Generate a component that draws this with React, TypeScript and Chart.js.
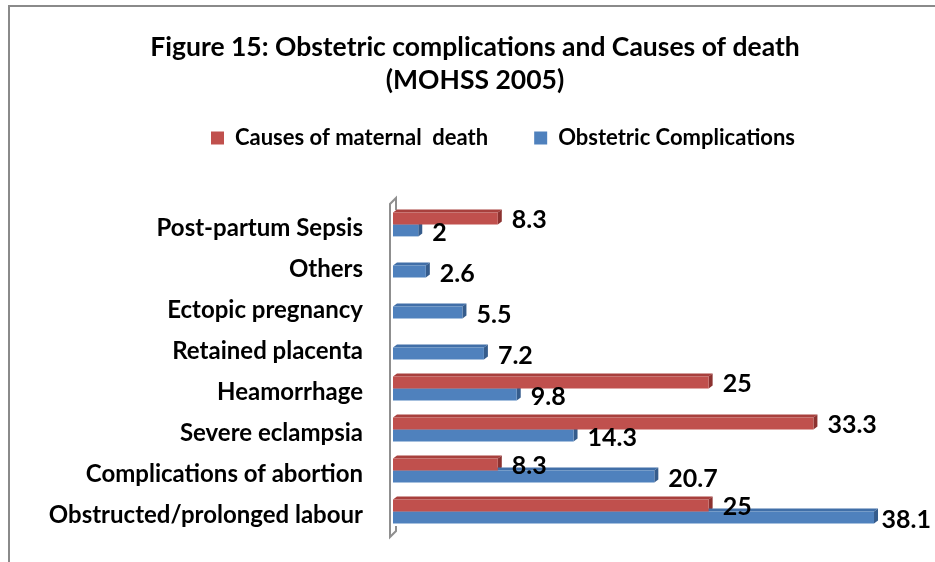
import React, { useEffect, useRef } from "react";
import { Chart, registerables } from "chart.js";

Chart.register(...registerables);

const titleLines = ["Figure 15: Obstetric complications and Causes of death", "(MOHSS 2005)"];
const categories = [
  "Post-partum Sepsis",
  "Others",
  "Ectopic pregnancy",
  "Retained placenta",
  "Heamorrhage",
  "Severe eclampsia",
  "Complications of abortion",
  "Obstructed/prolonged labour",
];
const seriesNames = ["Causes of maternal  death", "Obstetric Complications"];
const maternalDeath: (number | null)[] = [8.3, null, null, null, 25, 33.3, 8.3, 25];
const obstetricComplications: (number | null)[] = [2, 2.6, 5.5, 7.2, 9.8, 14.3, 20.7, 38.1];

const FONT = "Lato, 'Open Sans', sans-serif";
const frontColors = ["#C0504D", "#4F81BD"];
const topColors = ["#A8403D", "#416FA8"];
const sideColors = ["#8C3230", "#355C8C"];
const DX = 4;
const DY = 3;

const framePlugin = {
  id: "frame",
  beforeDraw(chart: any) {
    const ctx = chart.ctx;
    ctx.save();
    ctx.fillStyle = "#ffffff";
    ctx.fillRect(0, 0, chart.width, chart.height);
    ctx.strokeStyle = "#8a8a8a";
    ctx.lineWidth = 2;
    ctx.beginPath();
    ctx.moveTo(9, chart.height);
    ctx.lineTo(9, 6);
    ctx.lineTo(chart.width, 6);
    ctx.stroke();
    ctx.restore();
  },
};

const wallPlugin = {
  id: "wall",
  beforeDatasetsDraw(chart: any) {
    const ctx = chart.ctx;
    const a = chart.chartArea;
    const x0 = a.left - 3;
    ctx.save();
    ctx.strokeStyle = "#8f8f8f";
    ctx.lineWidth = 2;
    ctx.beginPath();
    ctx.moveTo(x0 + 6, a.top + 6);
    ctx.lineTo(x0 + 6, a.top - 6);
    ctx.lineTo(x0, a.top);
    ctx.lineTo(x0, a.bottom + 5);
    ctx.lineTo(x0 + 6, a.bottom - 1);
    ctx.lineTo(x0 + 6, a.bottom - 6);
    ctx.stroke();
    ctx.restore();
  },
};

const depthPlugin = {
  id: "depth3d",
  beforeDatasetsDraw(chart: any) {
    const ctx = chart.ctx;
    ctx.save();
    chart.data.datasets.forEach((ds: any, di: number) => {
      const meta = chart.getDatasetMeta(di);
      meta.data.forEach((el: any, i: number) => {
        if (ds.data[i] == null) return;
        const { x, y, base, height } = el.getProps(["x", "y", "base", "height"], true);
        const top = y - height / 2;
        const bottom = y + height / 2;
        ctx.fillStyle = topColors[di];
        ctx.beginPath();
        ctx.moveTo(base, top);
        ctx.lineTo(base + DX, top - DY);
        ctx.lineTo(x + DX, top - DY);
        ctx.lineTo(x, top);
        ctx.closePath();
        ctx.fill();
        ctx.fillStyle = sideColors[di];
        ctx.beginPath();
        ctx.moveTo(x, top);
        ctx.lineTo(x + DX, top - DY);
        ctx.lineTo(x + DX, bottom - DY);
        ctx.lineTo(x, bottom);
        ctx.closePath();
        ctx.fill();
      });
    });
    ctx.restore();
  },
};

const labelPlugin = {
  id: "valueLabels",
  afterDatasetsDraw(chart: any) {
    const ctx = chart.ctx;
    ctx.save();
    ctx.font = `bold 25px ${FONT}`;
    ctx.fillStyle = "#000000";
    ctx.textBaseline = "middle";
    ctx.textAlign = "left";
    chart.data.datasets.forEach((ds: any, di: number) => {
      const meta = chart.getDatasetMeta(di);
      meta.data.forEach((el: any, i: number) => {
        const v = ds.data[i];
        if (v == null) return;
        const text = String(v);
        const w = ctx.measureText(text).width;
        let tx = el.x + 14;
        if (tx + w > chart.width - 4) tx = chart.width - 4 - w;
        ctx.fillText(text, tx, el.y + (di === 1 ? 2 : 1));
      });
    });
    ctx.restore();
  },
};

const blockPosPlugin = {
  id: "blockPos",
  afterLayout(chart: any) {
    const tb = chart.titleBlock;
    if (tb) {
      tb.left += 26;
      tb.right += 26;
    }
    const lg = chart.legend;
    if (lg) {
      const dy = 81 - lg.top;
      lg.top += dy;
      lg.bottom += dy;
      lg.left += 54;
      lg.right += 54;
    }
  },
};

export default function App() {
  const ref = useRef<HTMLCanvasElement | null>(null);
  useEffect(() => {
    if (!ref.current) return;
    const chart = new Chart(ref.current, {
      type: "bar",
      data: {
        labels: categories,
        datasets: [
          {
            label: seriesNames[0],
            data: maternalDeath,
            backgroundColor: frontColors[0],
            categoryPercentage: 0.58,
            barPercentage: 1,
          },
          {
            label: seriesNames[1],
            data: obstetricComplications,
            backgroundColor: frontColors[1],
            categoryPercentage: 0.58,
            barPercentage: 1,
          },
        ],
      },
      options: {
        indexAxis: "y",
        animation: false,
        responsive: false,
        layout: { padding: { top: 6, left: 0, right: 37, bottom: 30 } },
        scales: {
          x: {
            position: "top",
            min: 0,
            max: 40,
            grid: { display: false },
            border: { display: false },
            ticks: { display: false },
            afterFit: (s: any) => {
              s.height = 29.5;
              s.paddingLeft = 0;
              s.paddingRight = 0;
            },
          },
          y: {
            grid: { display: false, drawTicks: false },
            border: { display: false },
            ticks: {
              padding: 30,
              labelOffset: 4,
              color: "#000000",
              font: { family: FONT, size: 24, weight: "bold" },
            },
            afterFit: (s: any) => {
              s.width = 393;
              s.paddingTop = 0;
              s.paddingBottom = 0;
            },
          },
        },
        plugins: {
          title: {
            display: true,
            text: titleLines,
            color: "#000000",
            font: { family: FONT, size: 26.5, weight: "bold", lineHeight: 33 / 26.5 },
            padding: { top: 24.5, bottom: 0 },
          },
          legend: {
            display: true,
            position: "top",
            labels: {
              color: "#000000",
              font: { family: FONT, size: 22, weight: "bold" },
              boxWidth: 13,
              boxHeight: 13,
              padding: 46,
            },
          },
          tooltip: { enabled: false },
        },
      },
      plugins: [framePlugin, wallPlugin, depthPlugin, labelPlugin, blockPosPlugin],
    });
    return () => chart.destroy();
  }, []);
  return (
    <div style={{ position: "fixed", left: 0, top: 0, width: 935, height: 562 }}>
      <canvas ref={ref} width={935} height={562} style={{ width: 935, height: 562, display: "block" }} />
    </div>
  );
}
